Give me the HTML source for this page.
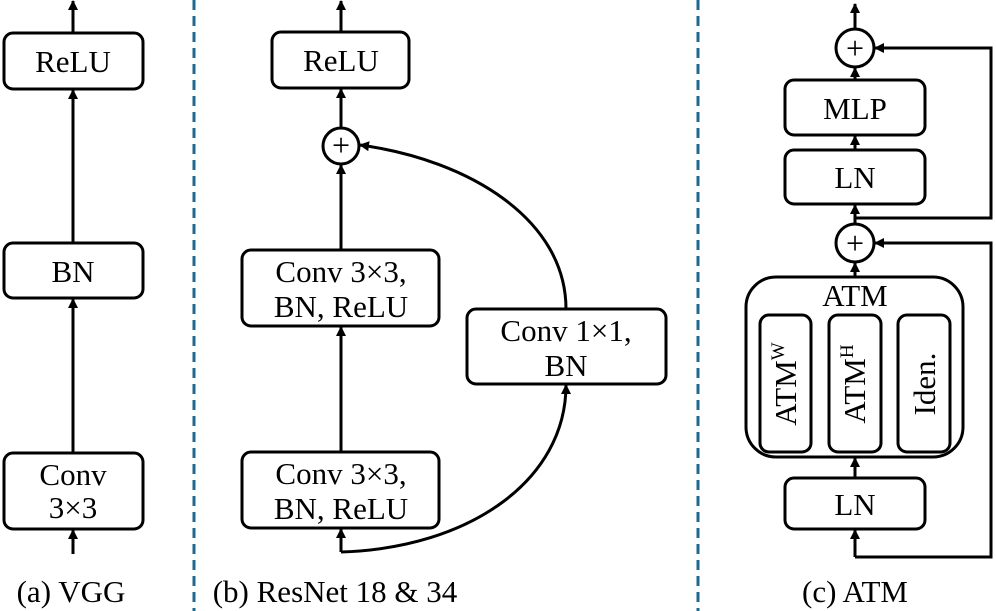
<!DOCTYPE html>
<html><head><style>body{margin:0;background:#fff}svg{display:block}text{font-family:"Liberation Serif","Times New Roman",serif}</style></head><body>
<svg width="996" height="611" xmlns="http://www.w3.org/2000/svg" font-size="31" text-anchor="middle">
<defs><marker id="a" markerWidth="10" markerHeight="10" refX="9" refY="5" orient="auto" markerUnits="userSpaceOnUse"><path d="M0,0 L10,5 L0,10 z" fill="#000"/></marker></defs>
<g stroke="#1d6a8f" stroke-width="3" stroke-dasharray="10,6"><line x1="194" y1="0" x2="194" y2="611"/><line x1="698" y1="0" x2="698" y2="611"/></g>
<g fill="none" stroke="#000" stroke-width="3">
<rect x="4" y="33" width="139" height="56" rx="9"/>
<rect x="4" y="243" width="139" height="55" rx="9"/>
<rect x="4" y="453" width="139" height="76" rx="9"/>
<line x1="73" y1="33" x2="73" y2="1" marker-end="url(#a)"/>
<line x1="73" y1="243" x2="73" y2="90" marker-end="url(#a)"/>
<line x1="73" y1="453" x2="73" y2="299" marker-end="url(#a)"/>
<line x1="73" y1="554" x2="73" y2="530" marker-end="url(#a)"/>
<rect x="272" y="32" width="137" height="56" rx="9"/>
<circle cx="341" cy="146" r="18"/>
<rect x="242" y="250" width="197" height="76" rx="9"/>
<rect x="242" y="452" width="197" height="76" rx="9"/>
<rect x="467" y="309" width="199" height="75" rx="9"/>
<line x1="341" y1="32" x2="341" y2="1" marker-end="url(#a)"/>
<line x1="341" y1="128" x2="341" y2="89" marker-end="url(#a)"/>
<line x1="341" y1="250" x2="341" y2="165" marker-end="url(#a)"/>
<line x1="341" y1="452" x2="341" y2="327" marker-end="url(#a)"/>
<line x1="341" y1="552" x2="341" y2="529" marker-end="url(#a)"/>
<path d="M566,309 C566,220 470,160 360,145" marker-end="url(#a)"/>
<path d="M341,552 C470,548 566,480 566,385" marker-end="url(#a)"/>
<circle cx="855" cy="48" r="19"/>
<rect x="785" y="80" width="140" height="55" rx="9"/>
<rect x="785" y="150" width="140" height="54" rx="9"/>
<circle cx="855" cy="243" r="19"/>
<rect x="746" y="277" width="217" height="180" rx="30"/>
<rect x="760" y="315" width="51" height="137" rx="9"/>
<rect x="829" y="315" width="52" height="137" rx="9"/>
<rect x="898" y="315" width="52" height="137" rx="9"/>
<rect x="785" y="478" width="140" height="51" rx="9"/>
<line x1="855" y1="29" x2="855" y2="4" marker-end="url(#a)"/>
<line x1="855" y1="80" x2="855" y2="68" marker-end="url(#a)"/>
<line x1="855" y1="150" x2="855" y2="136" marker-end="url(#a)"/>
<line x1="855" y1="224" x2="855" y2="205" marker-end="url(#a)"/>
<line x1="855" y1="277" x2="855" y2="263" marker-end="url(#a)"/>
<line x1="855" y1="478" x2="855" y2="458" marker-end="url(#a)"/>
<line x1="855" y1="557" x2="855" y2="530" marker-end="url(#a)"/>
<polyline points="855,218 991,218 991,48 875,48" marker-end="url(#a)"/>
<polyline points="855,557 991,557 991,243 875,243" marker-end="url(#a)"/>
</g>
<g fill="#000">
<text x="73" y="72">ReLU</text>
<text x="73" y="282">BN</text>
<text x="73" y="485">Conv</text>
<text x="73" y="518">3×3</text>
<text x="341" y="71">ReLU</text>
<text x="341" y="156" font-size="32">+</text>
<text x="341" y="282">Conv 3×3,</text>
<text x="341" y="317">BN, ReLU</text>
<text x="341" y="484">Conv 3×3,</text>
<text x="341" y="519">BN, ReLU</text>
<text x="566" y="341">Conv 1×1,</text>
<text x="566" y="376">BN</text>
<text x="855" y="59" font-size="32">+</text>
<text x="855" y="119">MLP</text>
<text x="855" y="188">LN</text>
<text x="855" y="254" font-size="32">+</text>
<text x="855" y="306">ATM</text>
<text x="855" y="515">LN</text>
<text transform="translate(796,384) rotate(-90)" text-anchor="middle">ATM<tspan font-size="19" dy="-12">W</tspan></text>
<text transform="translate(865,384) rotate(-90)" text-anchor="middle">ATM<tspan font-size="19" dy="-12">H</tspan></text>
<text transform="translate(935,384) rotate(-90)">Iden.</text>
<text x="71" y="602">(a) VGG</text>
<text x="335" y="602">(b) ResNet 18 &amp; 34</text>
<text x="855" y="602">(c) ATM</text>
</g>
</svg>
</body></html>
